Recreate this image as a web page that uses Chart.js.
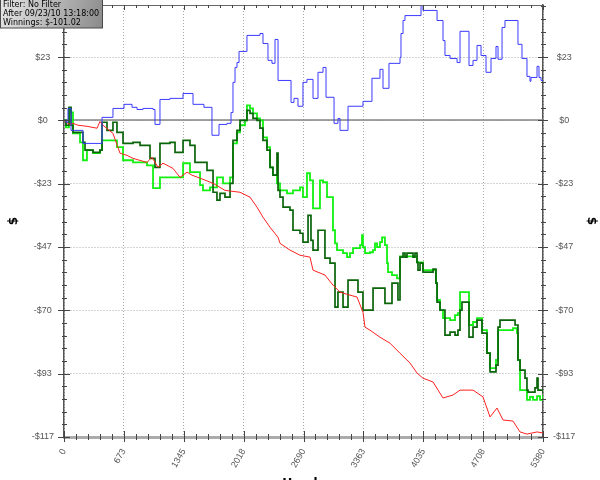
<!DOCTYPE html>
<html>
<head>
<meta charset="utf-8">
<title>Winnings graph</title>
<script src="https://cdn.jsdelivr.net/npm/chart.js@4.4.1/dist/chart.umd.min.js"></script>
<style>
	body { margin: 0; background: #fff; }
	#graph { display: block; }
</style>
</head>
<body>
<canvas id="graph" width="600" height="480"></canvas>
<script>
"use strict";

// axis ticks
var xTickValues = [0, 672.5, 1345, 2017.5, 2690, 3362.5, 4035, 4707.5, 5380];
var xTickLabels = ['0', '673', '1345', '2018', '2690', '3363', '4035', '4708', '5380'];
var yTickValues = [-116.67, -93.33, -70, -46.67, -23.33, 0, 23.33];
var yMin = -116.67;
var yMax = 42.5;

var infoLines = ['Filter: No Filter', 'After 09/23/10 13:18:00', 'Winnings: $-101.02'];

// showdown winnings (blue)
var blueHands = [0, 22, 45, 79, 213, 427, 550, 674, 764, 820, 887, 1000, 1022, 1078, 1190, 1337, 1449, 1572, 1662, 1741, 1831, 1876, 1898, 1921, 1943, 1966, 2055, 2201, 2235, 2291, 2336, 2370, 2404, 2550, 2583, 2628, 2684, 2729, 2797, 2853, 2909, 2943, 3033, 3077, 3100, 3190, 3358, 3459, 3549, 3583, 3650, 3774, 3785, 3808, 3830, 4010, 4032, 4190, 4257, 4279, 4336, 4415, 4448, 4549, 4594, 4639, 4684, 4740, 4796, 4852, 4875, 4920, 4953, 5099, 5144, 5200, 5234, 5245, 5313, 5335, 5358, 5380];
var blueWon = [0, -0.7, 4.4, -3.7, -8.5, 1.1, 4.4, 5.9, 4.8, 4.0, 4.4, 4.0, -1.5, 7.7, 8.1, 9.9, 5.9, 4.8, -5.5, -1.5, -1.1, 2.9, 14.0, 19.5, 21.3, 25.4, 31.3, 32.0, 28.3, 22.1, 21.0, 29.8, 14.7, 6.6, 8.1, 5.2, 14.0, 15.1, 8.1, 17.7, 19.5, 8.5, -1.1, 0.7, -3.7, 5.2, 7.0, 15.5, 18.8, 11.8, 21.0, 23.2, 32.0, 36.8, 38.6, 42.3, 40.5, 36.8, 29.4, 23.9, 22.8, 21.3, 32.8, 20.2, 22.1, 27.6, 23.9, 17.7, 22.8, 27.2, 22.5, 34.2, 36.8, 28.0, 22.8, 16.2, 14.4, 15.8, 19.9, 15.8, 14.7, 14.4];

// non showdown winnings (red)
var redHands = [0, 22, 67, 101, 157, 258, 371, 404, 438, 550, 629, 708, 775, 932, 988, 1056, 1112, 1224, 1303, 1382, 1438, 1528, 1674, 1808, 1977, 2089, 2168, 2235, 2314, 2404, 2426, 2538, 2651, 2763, 2797, 2931, 3021, 3100, 3212, 3291, 3358, 3381, 3437, 3549, 3662, 3774, 3886, 3965, 4032, 4145, 4257, 4369, 4448, 4594, 4706, 4785, 4863, 4931, 5043, 5122, 5200, 5313, 5380];
var redWon = [0, -0.7, -1.5, -1.1, -1.8, -2.2, -2.9, -0.4, -1.8, -4.8, -12.1, -12.9, -14.0, -15.5, -13.6, -17.3, -15.8, -17.7, -21.0, -19.1, -20.2, -21.3, -23.2, -25.8, -26.5, -28.3, -32.0, -35.7, -39.4, -43.1, -45.3, -47.8, -49.7, -50.4, -55.2, -57.0, -60.7, -63.3, -64.4, -65.1, -70.7, -76.2, -77.3, -79.9, -82.1, -85.8, -89.4, -93.1, -95.0, -96.4, -102.3, -101.2, -99.4, -99.4, -101.9, -109.3, -106.0, -110.4, -110.8, -114.8, -115.6, -114.8, -115.2];

// net won (light green)
var netHands = [0, 22, 56, 79, 101, 180, 213, 258, 326, 404, 427, 595, 663, 775, 932, 1000, 1078, 1337, 1415, 1528, 1561, 1640, 1718, 1786, 1865, 1898, 1943, 1977, 2033, 2055, 2089, 2123, 2168, 2201, 2235, 2280, 2314, 2347, 2392, 2426, 2505, 2572, 2651, 2684, 2729, 2763, 2797, 2875, 2909, 2954, 3021, 3044, 3066, 3134, 3179, 3212, 3246, 3325, 3347, 3358, 3381, 3437, 3471, 3493, 3516, 3549, 3572, 3605, 3628, 3639, 3684, 3740, 3774, 3965, 4032, 4178, 4190, 4223, 4257, 4336, 4392, 4425, 4448, 4549, 4594, 4639, 4695, 4751, 4785, 4852, 4875, 5043, 5088, 5099, 5122, 5200, 5234, 5268, 5313, 5347, 5380];
var netWon = [0, -2.6, 4.4, 2.9, -4.8, -8.1, -14.7, -11.0, -12.1, -11.0, -7.4, -9.9, -14.7, -15.5, -16.6, -25.0, -21.0, -15.8, -19.1, -23.9, -25.8, -24.7, -21.0, -23.2, -21.0, -8.5, -4.4, -1.8, 0, 5.5, 4.4, 2.6, 0.7, 0, -6.3, -9.9, -17.3, -20.2, -23.2, -25.8, -26.9, -25.8, -24.7, -28.3, -19.5, -22.1, -32.4, -22.1, -22.8, -28.3, -40.5, -45.3, -47.8, -48.9, -50.4, -48.9, -47.1, -46.0, -42.3, -46.7, -48.9, -48.6, -47.8, -45.3, -46.7, -44.9, -43.1, -46.0, -52.6, -55.9, -57.0, -58.2, -50.1, -52.3, -55.2, -60.0, -66.2, -69.9, -72.9, -73.6, -71.8, -71.0, -63.3, -75.4, -74.3, -72.9, -77.3, -85.8, -91.3, -88.3, -77.3, -76.6, -78.4, -88.3, -99.4, -103.0, -101.9, -103.0, -101.6, -103.0, -101.0];

// all-in EV (dark green)
var evHands = [0, 22, 56, 79, 101, 213, 236, 326, 404, 427, 483, 550, 595, 663, 775, 854, 966, 1022, 1078, 1190, 1247, 1337, 1415, 1471, 1606, 1674, 1718, 1752, 1808, 1865, 1898, 1943, 1977, 2055, 2089, 2123, 2168, 2201, 2235, 2280, 2314, 2347, 2392, 2404, 2426, 2460, 2538, 2572, 2651, 2684, 2741, 2774, 2797, 2853, 2931, 2988, 3044, 3077, 3134, 3190, 3302, 3358, 3471, 3605, 3684, 3751, 3774, 3808, 3830, 3852, 3920, 3942, 3965, 3976, 3999, 4032, 4145, 4178, 4190, 4223, 4279, 4336, 4392, 4425, 4448, 4470, 4549, 4594, 4639, 4695, 4751, 4785, 4852, 4875, 4897, 5066, 5099, 5122, 5178, 5200, 5212, 5290, 5313, 5324, 5380];
var evWon = [0, -1.8, 4.8, -1.8, -4.4, -8.1, -11.0, -11.8, -11.0, -0.7, -3.7, -0.7, -4.4, -8.5, -8.1, -9.2, -14.0, -17.3, -8.5, -8.1, -11.8, -7.4, -9.2, -15.5, -18.4, -26.5, -29.4, -26.9, -28.3, -23.2, -7.4, -3.7, 0, 3.7, 2.6, 0.7, 0, -2.9, -7.4, -11.0, -17.3, -20.2, -12.1, -25.8, -28.3, -32.0, -33.1, -40.5, -41.6, -44.9, -35.0, -44.2, -47.8, -40.5, -50.8, -52.6, -68.8, -63.3, -68.8, -58.9, -63.3, -69.9, -61.8, -67.4, -60.0, -66.2, -50.4, -48.9, -50.4, -48.9, -50.4, -48.9, -52.3, -55.2, -52.6, -55.9, -54.8, -60.0, -67.0, -69.9, -79.1, -78.0, -79.1, -77.3, -69.9, -67.0, -79.9, -76.2, -73.6, -78.4, -85.8, -92.7, -90.2, -76.2, -73.6, -75.4, -88.3, -92.0, -95.0, -99.4, -100.1, -98.6, -95.0, -99.4, -100.5];


function ToPoints(hands, won) {
	var pts = [];
	for (var i = 0; i < hands.length; i++) {
		pts.push({ x: hands[i], y: won[i] });
	}
	return pts;
}

function Money(v) {
	var r = Math.round(v);
	return r < 0 ? '-$' + (-r) : '$' + r;
}

// 4 minor ticks between each pair of major ticks
function MinorSteps(values, extra) {
	var out = [];
	var step = (values[1] - values[0]) / 5;
	for (var i = 0; i < values.length - 1; i++) {
		for (var k = 1; k < 5; k++) out.push(values[i] + step * k);
	}
	for (var j = 1; j <= (extra || 0); j++) out.push(values[values.length - 1] + step * j);
	return out;
}

function Seg(ctx, x1, y1, x2, y2) {
	ctx.beginPath();
	ctx.moveTo(x1, y1);
	ctx.lineTo(x2, y2);
	ctx.stroke();
}

var framePlugin = {
	id: 'frame',
	beforeDatasetsDraw: function (chart) {
		var ctx = chart.ctx, a = chart.chartArea;
		var y0 = Math.round(chart.scales.y.getPixelForValue(0));
		ctx.save();
		ctx.strokeStyle = '#858585';
		ctx.lineWidth = 1.5;
		Seg(ctx, a.left, y0, a.right, y0);
		ctx.restore();
	},
	afterDraw: function (chart) {
		var ctx = chart.ctx, a = chart.chartArea;
		var xs = chart.scales.x, ys = chart.scales.y;
		ctx.save();
		ctx.strokeStyle = '#666';
		ctx.lineWidth = 1;
		Seg(ctx, a.left, a.top + 0.5, a.right, a.top + 0.5);

		ctx.strokeStyle = '#444';
		xTickValues.forEach(function (v) {
			var px = Math.round(xs.getPixelForValue(v)) + 0.5;
			Seg(ctx, px, a.bottom - 6, px, a.bottom + 5);
			Seg(ctx, px, a.top, px, a.top + 5);
		});
		MinorSteps(xTickValues).forEach(function (v) {
			var px = Math.round(xs.getPixelForValue(v)) + 0.5;
			Seg(ctx, px, a.bottom - 3, px, a.bottom + 3);
			Seg(ctx, px, a.top, px, a.top + 3);
		});
		yTickValues.forEach(function (v) {
			var py = Math.round(ys.getPixelForValue(v)) + 0.5;
			Seg(ctx, a.left - 6, py, a.left + 6, py);
			Seg(ctx, a.right - 5, py, a.right + 5, py);
		});
		MinorSteps(yTickValues, 4).forEach(function (v) {
			if (v > yMax) return;
			var py = Math.round(ys.getPixelForValue(v)) + 0.5;
			Seg(ctx, a.left - 2, py, a.left + 3, py);
			Seg(ctx, a.right - 2, py, a.right + 3, py);
		});

		// info box, top left
		var g = ctx.createLinearGradient(0, 0, 103, 28);
		g.addColorStop(0, '#e6e6e6');
		g.addColorStop(1, '#8a8a8a');
		ctx.fillStyle = g;
		ctx.fillRect(0, 0, 103, 28);
		ctx.strokeStyle = '#4a4a4a';
		ctx.strokeRect(0.5, -0.5, 102, 28.5);
		ctx.fillStyle = '#000';
		ctx.font = '8px "DejaVu Sans"';
		ctx.textBaseline = 'alphabetic';
		ctx.textAlign = 'left';
		for (var i = 0; i < infoLines.length; i++) {
			ctx.fillText(infoLines[i], 3, 7 + i * 9);
		}
		ctx.restore();
	}
};

var tickFont = { family: '"Liberation Sans", Arial, sans-serif', size: 9 };
var titleFont = { family: '"DejaVu Sans", sans-serif', size: 12, weight: 'bold' };

function SetYTicks(scale) {
	scale.ticks = yTickValues.map(function (v) { return { value: v }; });
}

function FitY(width) {
	return function (scale) {
		scale.width = width;
		scale.paddingTop = 0;
		scale.paddingBottom = 0;
	};
}

const context = document.getElementById('graph');
const graph = new Chart(context, {
	type: 'line',
	data: {
		datasets: [{
			label: 'Showdown',
			data: ToPoints(blueHands, blueWon),
			borderColor: '#3a3aff',
			borderWidth: 1,
			stepped: true
		}, {
			label: 'Non showdown',
			data: ToPoints(redHands, redWon),
			borderColor: '#ff2020',
			borderWidth: 1
		}, {
			label: 'All-in EV',
			data: ToPoints(evHands, evWon),
			borderColor: '#0a640a',
			borderWidth: 1.7,
			stepped: true
		}, {
			label: 'Net won',
			data: ToPoints(netHands, netWon),
			borderColor: '#12f012',
			borderWidth: 1.8,
			stepped: true
		}]
	},
	options: {
		responsive: false,
		animation: false,
		events: [],
		elements: { point: { radius: 0, hoverRadius: 0 }, line: { tension: 0 } },
		layout: { autoPadding: false, padding: { top: 5 } },
		plugins: { legend: { display: false }, tooltip: { enabled: false } },
		scales: {
			x: {
				type: 'linear',
				position: 'bottom',
				min: 0,
				max: 5380,
				afterBuildTicks: function (scale) {
					scale.ticks = xTickValues.map(function (v) { return { value: v }; });
				},
				afterFit: function (scale) {
					scale.height = 43;
					scale.paddingLeft = 0;
					scale.paddingRight = 0;
				},
				ticks: {
					autoSkip: false,
					minRotation: 60,
					maxRotation: 60,
					padding: 10,
					color: '#555',
					font: tickFont,
					callback: function (v, i) { return xTickLabels[i]; }
				},
				grid: { color: '#a8a8a8', drawTicks: false },
				border: { color: '#ababab', width: 3, dash: [1, 2] },
				title: { display: true, text: 'Hands', color: '#000', font: titleFont, padding: { top: 0, bottom: -11 } }
			},
			y: {
				position: 'left',
				min: yMin,
				max: yMax,
				afterBuildTicks: SetYTicks,
				afterFit: FitY(64),
				ticks: { padding: 10, crossAlign: 'center', color: '#555', font: tickFont, callback: Money },
				grid: { color: '#a8a8a8', drawTicks: false },
				border: { color: '#555', width: 1.5, dash: [1, 2] },
				title: { display: true, text: '$', color: '#000', font: titleFont, padding: { top: 7, bottom: 0 } }
			},
			y2: {
				position: 'right',
				min: yMin,
				max: yMax,
				afterBuildTicks: SetYTicks,
				afterFit: FitY(57),
				ticks: { padding: 10, crossAlign: 'center', color: '#555', font: tickFont, callback: Money },
				grid: { display: false, drawTicks: false },
				border: { color: '#555', width: 1.5 },
				title: { display: true, text: '$', color: '#000', font: titleFont, padding: { top: 2, bottom: 0 } }
			}
		}
	},
	plugins: [framePlugin]
});
</script>
</body>
</html>
